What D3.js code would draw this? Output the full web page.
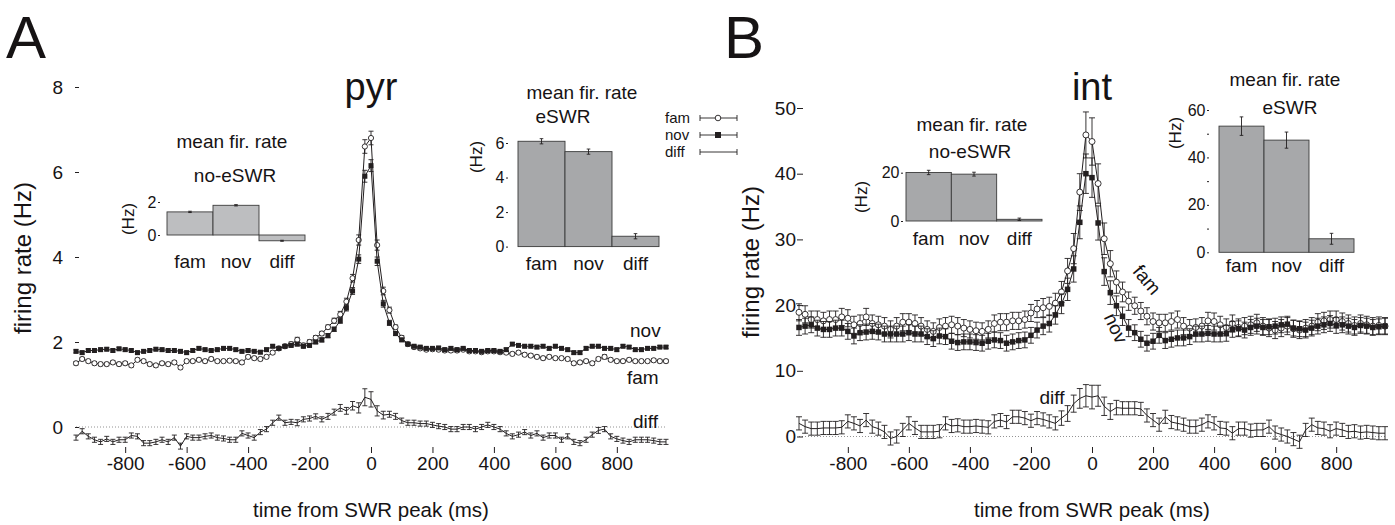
<!DOCTYPE html>
<html lang="en">
<head>
<meta charset="UTF-8">
<title>Firing rate around SWR peak</title>
<script src="https://d3js.org/d3.v7.min.js"></script>
<style>
  body { margin: 0; background: #fff; }
  svg text { font-family: "Liberation Sans", Arial, sans-serif; fill: #161314; }
  .tick line { stroke: #231f20; }
</style>
</head>
<body>
<svg width="1395" height="525"></svg>
<script>
// time bins (ms from SWR peak), 20 ms wide
const timeBins = d3.range(-960, 961, 20);
const xTicks = [-800, -600, -400, -200, 0, 200, 400, 600, 800];
const pyrYTicks = [0, 2, 4, 6, 8];
const intYTicks = [0, 10, 20, 30, 40, 50];
const insetCats = ["fam", "nov", "diff"];

// ---- pyr (panel A) ----
const pyrFam = [
  1.50, 1.60, 1.55, 1.50, 1.48, 1.48, 1.52, 1.48, 1.50, 1.45,
  1.58, 1.55, 1.48, 1.45, 1.50, 1.48, 1.52, 1.40, 1.55, 1.55,
  1.58, 1.55, 1.60, 1.55, 1.55, 1.56, 1.55, 1.52, 1.65, 1.62,
  1.60, 1.65, 1.75, 1.85, 1.90, 1.95, 2.05, 1.92, 2.00, 2.10,
  2.20, 2.35, 2.50, 2.65, 2.95, 3.50, 4.40, 6.60, 6.80, 4.28,
  3.20, 2.75, 2.35, 2.10, 1.95, 1.88, 1.85, 1.82, 1.83, 1.82,
  1.80, 1.80, 1.80, 1.82, 1.78, 1.78, 1.76, 1.78, 1.78, 1.76,
  1.75, 1.72, 1.75, 1.70, 1.68, 1.65, 1.62, 1.65, 1.62, 1.62,
  1.60, 1.50, 1.52, 1.55, 1.50, 1.60, 1.65, 1.58, 1.55, 1.55,
  1.58, 1.55, 1.55, 1.55, 1.57, 1.55, 1.55
];
const pyrFamErr = [
  0.04, 0.04, 0.04, 0.04, 0.04, 0.04, 0.04, 0.04, 0.04, 0.04,
  0.04, 0.04, 0.04, 0.04, 0.04, 0.04, 0.04, 0.04, 0.04, 0.04,
  0.04, 0.04, 0.04, 0.04, 0.04, 0.04, 0.04, 0.04, 0.04, 0.04,
  0.04, 0.04, 0.04, 0.04, 0.04, 0.05, 0.06, 0.05, 0.05, 0.05,
  0.05, 0.05, 0.06, 0.07, 0.08, 0.09, 0.12, 0.16, 0.16, 0.12,
  0.09, 0.07, 0.05, 0.05, 0.04, 0.04, 0.04, 0.04, 0.04, 0.04,
  0.04, 0.04, 0.04, 0.04, 0.04, 0.04, 0.04, 0.04, 0.04, 0.04,
  0.04, 0.04, 0.04, 0.04, 0.04, 0.04, 0.04, 0.04, 0.04, 0.04,
  0.04, 0.04, 0.04, 0.04, 0.04, 0.04, 0.05, 0.04, 0.04, 0.04,
  0.04, 0.04, 0.04, 0.04, 0.04, 0.04, 0.04
];
const pyrNov = [
  1.78, 1.75, 1.80, 1.80, 1.82, 1.83, 1.80, 1.84, 1.82, 1.80,
  1.75, 1.78, 1.80, 1.83, 1.82, 1.80, 1.80, 1.78, 1.75, 1.80,
  1.85, 1.82, 1.80, 1.82, 1.85, 1.85, 1.82, 1.78, 1.80, 1.78,
  1.76, 1.82, 1.90, 1.85, 1.90, 1.92, 1.95, 1.90, 1.92, 2.00,
  2.05, 2.15, 2.30, 2.50, 2.80, 3.20, 3.95, 5.90, 6.15, 3.90,
  2.90, 2.45, 2.20, 2.05, 1.95, 1.90, 1.88, 1.85, 1.85, 1.86,
  1.82, 1.85, 1.82, 1.85, 1.80, 1.80, 1.78, 1.80, 1.80, 1.78,
  1.82, 1.95, 1.92, 1.90, 1.90, 1.88, 1.90, 1.85, 1.90, 1.85,
  1.82, 1.75, 1.75, 1.85, 1.90, 1.90, 1.85, 1.85, 1.82, 1.90,
  1.88, 1.82, 1.82, 1.85, 1.85, 1.88, 1.88
];
const pyrNovErr = [
  0.035, 0.035, 0.035, 0.035, 0.035, 0.035, 0.035, 0.035, 0.035, 0.035,
  0.035, 0.035, 0.035, 0.035, 0.035, 0.035, 0.035, 0.035, 0.035, 0.035,
  0.035, 0.035, 0.035, 0.035, 0.035, 0.035, 0.035, 0.035, 0.035, 0.035,
  0.035, 0.035, 0.035, 0.035, 0.035, 0.04, 0.04, 0.04, 0.04, 0.04,
  0.05, 0.05, 0.05, 0.06, 0.07, 0.08, 0.10, 0.14, 0.14, 0.10,
  0.08, 0.06, 0.05, 0.04, 0.035, 0.035, 0.035, 0.035, 0.035, 0.035,
  0.035, 0.035, 0.035, 0.035, 0.035, 0.035, 0.035, 0.035, 0.035, 0.035,
  0.035, 0.035, 0.035, 0.035, 0.035, 0.035, 0.035, 0.035, 0.035, 0.035,
  0.035, 0.035, 0.035, 0.035, 0.035, 0.035, 0.035, 0.035, 0.035, 0.035,
  0.035, 0.035, 0.035, 0.035, 0.035, 0.035, 0.035
];
const pyrDiff = [
  -0.25, -0.10, -0.22, -0.30, -0.35, -0.28, -0.35, -0.30, -0.30, -0.20,
  -0.22, -0.38, -0.38, -0.35, -0.30, -0.35, -0.25, -0.45, -0.22, -0.25,
  -0.25, -0.22, -0.20, -0.25, -0.27, -0.30, -0.30, -0.15, -0.20, -0.25,
  -0.12, -0.05, 0.10, 0.22, 0.10, 0.12, 0.10, 0.18, 0.20, 0.25,
  0.18, 0.25, 0.35, 0.45, 0.38, 0.50, 0.45, 0.70, 0.65, 0.38,
  0.28, 0.30, 0.25, 0.15, 0.10, 0.10, 0.08, 0.08, 0.05, 0.02,
  0.00, -0.05, -0.05, 0.00, 0.00, -0.05, 0.00, 0.05, 0.00, -0.05,
  -0.15, -0.22, -0.18, -0.12, -0.20, -0.15, -0.25, -0.20, -0.20, -0.30,
  -0.22, -0.35, -0.38, -0.30, -0.18, -0.08, -0.05, -0.22, -0.28, -0.32,
  -0.35, -0.30, -0.30, -0.30, -0.32, -0.35, -0.35
];
const pyrDiffErr = [
  0.06, 0.06, 0.06, 0.06, 0.06, 0.06, 0.06, 0.06, 0.06, 0.06,
  0.06, 0.06, 0.06, 0.06, 0.06, 0.06, 0.06, 0.07, 0.06, 0.06,
  0.06, 0.06, 0.06, 0.06, 0.06, 0.06, 0.06, 0.06, 0.06, 0.06,
  0.06, 0.06, 0.06, 0.06, 0.06, 0.06, 0.07, 0.06, 0.06, 0.06,
  0.06, 0.07, 0.07, 0.08, 0.08, 0.10, 0.12, 0.20, 0.18, 0.12,
  0.09, 0.07, 0.07, 0.06, 0.06, 0.06, 0.06, 0.06, 0.06, 0.06,
  0.06, 0.06, 0.06, 0.06, 0.06, 0.06, 0.06, 0.06, 0.06, 0.06,
  0.06, 0.06, 0.06, 0.06, 0.06, 0.06, 0.06, 0.06, 0.06, 0.06,
  0.06, 0.06, 0.06, 0.06, 0.06, 0.07, 0.06, 0.06, 0.06, 0.06,
  0.06, 0.06, 0.06, 0.06, 0.06, 0.06, 0.06
];
const pyrNoEswr = [1.4, 1.8, -0.35];
const pyrNoEswrErr = [0.04, 0.04, 0.03];
const pyrEswr = [6.1, 5.5, 0.6];
const pyrEswrErr = [0.15, 0.15, 0.15];

// ---- int (panel B) ----
const intFam = [
  18.9, 18.6, 17.8, 17.8, 17.6, 17.8, 17.8, 18.2, 18.0, 17.0,
  17.2, 18.2, 17.2, 17.0, 16.8, 16.3, 16.8, 17.4, 17.4, 17.2,
  16.8, 16.3, 16.0, 16.6, 16.8, 17.0, 16.8, 16.5, 16.3, 16.1,
  16.0, 16.3, 17.2, 17.4, 17.4, 17.6, 17.6, 17.8, 18.8, 19.4,
  19.6, 19.8, 20.3, 22.0, 25.2, 28.6, 37.2, 45.9, 44.9, 38.5,
  30.1, 26.3, 23.5, 22.0, 20.6, 19.9, 19.1, 18.3, 17.5, 17.3,
  17.3, 17.5, 17.8, 16.8, 16.5, 16.6, 16.8, 17.6, 17.5, 17.0,
  16.6, 17.2, 16.6, 16.8, 17.0, 17.3, 16.8, 16.5, 16.2, 16.5,
  16.8, 16.4, 16.2, 16.5, 16.8, 17.4, 17.6, 17.8, 17.8, 17.5,
  17.2, 16.9, 17.2, 17.0, 16.8, 16.9, 16.8
];
const intFamErr = [
  1.3, 1.3, 1.3, 1.3, 1.3, 1.3, 1.3, 1.3, 1.3, 1.3,
  1.3, 1.3, 1.3, 1.3, 1.3, 1.3, 1.3, 1.3, 1.3, 1.3,
  1.3, 1.3, 1.3, 1.3, 1.3, 1.3, 1.3, 1.3, 1.3, 1.3,
  1.3, 1.3, 1.3, 1.3, 1.3, 1.3, 1.3, 1.3, 1.3, 1.3,
  1.4, 1.4, 1.5, 1.6, 1.9, 2.3, 2.8, 3.5, 3.6, 3.0,
  2.4, 2.0, 1.7, 1.5, 1.4, 1.3, 1.3, 1.3, 1.3, 1.3,
  1.3, 1.3, 1.3, 1.3, 1.3, 1.3, 1.3, 1.3, 1.3, 1.3,
  1.3, 1.3, 1.3, 1.3, 1.3, 1.3, 1.3, 1.3, 1.3, 1.3,
  1.3, 1.3, 1.3, 1.3, 1.3, 1.3, 1.3, 1.3, 1.3, 1.3,
  1.3, 1.3, 1.3, 1.3, 1.3, 1.3, 1.3
];
const intNov = [
  16.6, 16.8, 17.0, 16.5, 16.3, 16.3, 16.5, 16.5, 16.0, 15.3,
  15.8, 15.9, 16.0, 15.9, 15.6, 15.6, 15.6, 15.6, 15.8, 15.6,
  15.6, 15.2, 14.9, 15.3, 15.2, 14.5, 14.3, 14.4, 14.4, 14.3,
  14.2, 14.5, 14.7, 14.6, 14.2, 14.4, 14.6, 14.7, 15.4, 16.2,
  16.8, 17.2, 18.5, 20.2, 22.4, 25.5, 32.6, 40.0, 39.4, 32.5,
  25.1, 21.9, 19.9, 18.3, 16.5, 15.8, 14.8, 14.2, 14.5, 15.4,
  14.6, 14.8, 15.0, 15.0, 15.2, 15.6, 15.6, 15.7, 15.6, 15.6,
  15.7, 16.3, 16.4, 16.2, 16.6, 16.8, 16.6, 16.7, 16.8, 17.0,
  17.1, 16.5, 16.4, 16.2, 16.5, 16.8, 17.0, 17.2, 16.9, 17.0,
  16.8, 16.6, 16.9, 16.8, 16.6, 16.7, 16.8
];
const intNovErr = [
  1.2, 1.2, 1.2, 1.2, 1.2, 1.2, 1.2, 1.2, 1.2, 1.2,
  1.2, 1.2, 1.2, 1.2, 1.2, 1.2, 1.2, 1.2, 1.2, 1.2,
  1.2, 1.2, 1.2, 1.2, 1.2, 1.2, 1.2, 1.2, 1.2, 1.2,
  1.2, 1.2, 1.2, 1.2, 1.2, 1.2, 1.2, 1.2, 1.2, 1.2,
  1.3, 1.3, 1.4, 1.5, 1.7, 2.0, 2.5, 3.0, 3.0, 2.6,
  2.1, 1.8, 1.5, 1.4, 1.3, 1.2, 1.2, 1.2, 1.2, 1.2,
  1.2, 1.2, 1.2, 1.2, 1.2, 1.2, 1.2, 1.2, 1.2, 1.2,
  1.2, 1.2, 1.2, 1.2, 1.2, 1.2, 1.2, 1.2, 1.2, 1.2,
  1.2, 1.2, 1.2, 1.2, 1.2, 1.2, 1.2, 1.2, 1.2, 1.2,
  1.2, 1.2, 1.2, 1.2, 1.2, 1.2, 1.2
];
const intDiff = [
  2.0, 1.5, 1.2, 1.2, 1.3, 1.3, 1.3, 1.4, 2.3, 2.0,
  1.6, 2.5, 1.5, 1.2, 0.7, -0.3, 0.0, 1.0, 2.0, 1.3,
  0.7, 0.7, 0.7, 0.8, 2.0, 1.6, 1.7, 1.5, 1.5, 1.6,
  1.5, 1.4, 2.3, 2.5, 2.2, 3.0, 3.0, 2.8, 2.4, 2.8,
  2.6, 2.3, 2.0, 2.8, 3.5, 5.0, 5.8, 6.2, 6.0, 6.2,
  4.6, 3.8, 4.4, 4.3, 4.3, 4.3, 4.2, 3.2, 2.5, 1.8,
  3.0, 2.2, 2.0, 1.8, 1.5, 1.5, 1.8, 2.3, 2.0, 1.3,
  1.2, 0.5, 1.2, 1.2, 0.9, 1.0, 1.0, 1.5, 0.6, 0.3,
  0.0, -0.4, -0.8, 1.0, 1.8, 1.3, 1.2, 0.8, 1.2, 1.0,
  0.7, 0.8, 0.6, 0.7, 0.6, 0.5, 0.5
];
const intDiffErr = [
  1.0, 1.0, 1.0, 1.0, 1.0, 1.0, 1.0, 1.0, 1.0, 1.0,
  1.0, 1.0, 1.0, 1.0, 1.0, 1.0, 1.0, 1.0, 1.0, 1.0,
  1.0, 1.0, 1.0, 1.0, 1.0, 1.0, 1.0, 1.0, 1.0, 1.0,
  1.0, 1.0, 1.0, 1.0, 1.0, 1.0, 1.0, 1.0, 1.0, 1.0,
  1.0, 1.0, 1.0, 1.1, 1.2, 1.3, 1.5, 1.7, 1.8, 1.6,
  1.4, 1.2, 1.1, 1.0, 1.0, 1.0, 1.0, 1.0, 1.0, 1.0,
  1.0, 1.0, 1.0, 1.0, 1.0, 1.0, 1.0, 1.0, 1.0, 1.0,
  1.0, 1.0, 1.0, 1.0, 1.0, 1.0, 1.0, 1.0, 1.0, 1.0,
  1.0, 1.0, 1.0, 1.0, 1.0, 1.0, 1.0, 1.0, 1.0, 1.0,
  1.0, 1.0, 1.0, 1.0, 1.0, 1.0, 1.0
];
const intNoEswr = [20.1, 19.4, 0.7];
const intNoEswrErr = [0.9, 0.8, 0.5];
const intEswr = [53.2, 47.3, 5.7];
const intEswrErr = [3.9, 3.4, 2.3];

const ink = "#231f20";
const svg = d3.select("svg");

function errPath(xx, ylo, yhi, cap) {
  return `M${xx - cap},${ylo}H${xx + cap}M${xx},${ylo}V${yhi}M${xx - cap},${yhi}H${xx + cap}`;
}

function drawSeries(g, x, y, vals, errs, opts) {
  const line = d3.line().x((d, i) => x(timeBins[i])).y(d => y(d));
  g.append("path").datum(vals)
    .attr("d", line).attr("fill", "none")
    .attr("stroke", ink).attr("stroke-width", 1);
  g.append("g").selectAll("path").data(vals).join("path")
    .attr("d", (d, i) => errPath(x(timeBins[i]), y(d - errs[i]), y(d + errs[i]), opts.cap))
    .attr("fill", "none").attr("stroke", ink).attr("stroke-width", 0.9);
  if (opts.marker === "circle") {
    g.append("g").selectAll("circle").data(vals).join("circle")
      .attr("cx", (d, i) => x(timeBins[i])).attr("cy", d => y(d))
      .attr("r", opts.size).attr("fill", "#fff")
      .attr("stroke", ink).attr("stroke-width", 0.9);
  } else if (opts.marker === "square") {
    g.append("g").selectAll("rect").data(vals).join("rect")
      .attr("x", (d, i) => x(timeBins[i]) - opts.size / 2)
      .attr("y", d => y(d) - opts.size / 2)
      .attr("width", opts.size).attr("height", opts.size)
      .attr("fill", ink);
  }
}

function drawMain(cfg) {
  const g = svg.append("g");
  const x = d3.scaleLinear().domain([-960, 960]).range(cfg.xRange);
  const y = d3.scaleLinear().domain([0, cfg.yTop]).range(cfg.yRange);

  // zero reference
  g.append("line")
    .attr("x1", x(-960)).attr("x2", x(960))
    .attr("y1", y(0)).attr("y2", y(0))
    .attr("stroke", "#777").attr("stroke-width", 0.8)
    .attr("stroke-dasharray", "1,2");

  const yAxis = g.append("g")
    .attr("transform", `translate(${cfg.yAxisX},0)`)
    .call(d3.axisLeft(y).tickValues(cfg.yTicks).tickFormat(d => String(d))
      .tickSize(cfg.yTickSize).tickPadding(cfg.yTickPad));
  yAxis.select(".domain").remove();
  yAxis.selectAll("text").attr("font-size", 19);

  const xAxis = g.append("g")
    .attr("transform", `translate(0,${cfg.xAxisY})`)
    .call(d3.axisBottom(x).tickValues(xTicks).tickFormat(d => String(d))
      .tickSize(6).tickPadding(4));
  xAxis.select(".domain").remove();
  xAxis.selectAll("text").attr("font-size", 19);

  g.append("text")
    .attr("x", x(0)).attr("y", 517)
    .attr("text-anchor", "middle").attr("font-size", 20.5)
    .text("time from SWR peak (ms)");
  g.append("text")
    .attr("transform", `translate(${cfg.yTitleX},${cfg.yTitleY}) rotate(-90)`)
    .attr("text-anchor", "middle").attr("font-size", 24)
    .text("firing rate (Hz)");

  g.append("text")
    .attr("x", cfg.letterX).attr("y", 58).attr("font-size", 60)
    .text(cfg.letter);
  g.append("text")
    .attr("x", x(0)).attr("y", 100).attr("text-anchor", "middle")
    .attr("font-size", 38).text(cfg.title);

  drawSeries(g, x, y, cfg.diff, cfg.diffErr, { marker: "none", cap: cfg.cap });
  drawSeries(g, x, y, cfg.fam, cfg.famErr, { marker: "circle", size: cfg.circleR, cap: cfg.cap });
  drawSeries(g, x, y, cfg.nov, cfg.novErr, { marker: "square", size: cfg.squareS, cap: cfg.cap });

  cfg.labels.forEach(l => {
    g.append("text")
      .attr("transform", `translate(${l.x},${l.y}) rotate(${l.rot || 0})`)
      .attr("text-anchor", l.anchor || "start").attr("font-size", 19)
      .text(l.text);
  });
}

function drawInset(cfg) {
  const g = svg.append("g");
  const x = d3.scaleBand().domain(insetCats).range(cfg.xRange);
  const y = d3.scaleLinear().domain([0, cfg.yTop]).range(cfg.yRange);

  g.selectAll("rect").data(cfg.values).join("rect")
    .attr("x", (d, i) => x(insetCats[i]))
    .attr("width", x.bandwidth())
    .attr("y", d => Math.min(y(d), y(0)))
    .attr("height", d => Math.abs(y(d) - y(0)))
    .attr("fill", cfg.fill).attr("stroke", "#3b3b3b").attr("stroke-width", 0.9);

  g.append("g").selectAll("path").data(cfg.values).join("path")
    .attr("d", (d, i) => errPath(x(insetCats[i]) + x.bandwidth() / 2,
      y(d - cfg.errs[i]), y(d + cfg.errs[i]), 1.8))
    .attr("fill", "none").attr("stroke", ink).attr("stroke-width", 0.9);

  const ax = g.append("g")
    .attr("transform", `translate(${cfg.axisX},0)`)
    .call(d3.axisLeft(y).tickValues(cfg.ticks)
      .tickFormat(d => cfg.tickLabels.includes(d) ? String(d) : "")
      .tickSize(2).tickPadding(1.5));
  ax.select(".domain").remove();
  ax.selectAll("text").attr("font-size", 16);

  g.selectAll("text.cat").data(insetCats).join("text")
    .attr("class", "cat")
    .attr("x", d => x(d) + x.bandwidth() / 2).attr("y", cfg.catY)
    .attr("text-anchor", "middle").attr("font-size", 19).text(d => d);

  cfg.titles.forEach(t => {
    g.append("text").attr("x", t.x).attr("y", t.y)
      .attr("text-anchor", "middle").attr("font-size", 19).text(t.text);
  });
  g.append("text")
    .attr("transform", `translate(${cfg.hzX},${cfg.hzY}) rotate(-90)`)
    .attr("text-anchor", "middle").attr("font-size", 17).text("(Hz)");
}

// Panel A
drawMain({
  letter: "A", letterX: 6, title: "pyr",
  xRange: [76, 666], yTop: 8, yRange: [427, 87],
  yTicks: pyrYTicks, yAxisX: 79, yTickSize: 4, yTickPad: 12,
  xAxisY: 447, yTitleX: 31, yTitleY: 258,
  fam: pyrFam, famErr: pyrFamErr, nov: pyrNov, novErr: pyrNovErr,
  diff: pyrDiff, diffErr: pyrDiffErr, cap: 2.5, circleR: 2.6, squareS: 5,
  labels: [
    { text: "nov", x: 630, y: 337 },
    { text: "fam", x: 627, y: 384 },
    { text: "diff", x: 633, y: 428 }
  ]
});

// Panel B
drawMain({
  letter: "B", letterX: 724, title: "int",
  xRange: [799, 1385], yTop: 50, yRange: [436.5, 108],
  yTicks: intYTicks, yAxisX: 803, yTickSize: 6, yTickPad: 1,
  xAxisY: 447, yTitleX: 759, yTitleY: 262,
  fam: intFam, famErr: intFamErr, nov: intNov, novErr: intNovErr,
  diff: intDiff, diffErr: intDiffErr, cap: 3, circleR: 3, squareS: 5.5,
  labels: [
    { text: "fam", x: 1142, y: 284, rot: 50, anchor: "middle" },
    { text: "nov", x: 1110, y: 331, rot: 65, anchor: "middle" },
    { text: "diff", x: 1052, y: 404, anchor: "middle" }
  ]
});

// insets
drawInset({
  xRange: [167, 305], yTop: 2, yRange: [235, 202],
  values: pyrNoEswr, errs: pyrNoEswrErr, fill: "#bdbec0",
  ticks: [0, 2], tickLabels: [0, 2], axisX: 160, catY: 268,
  titles: [{ text: "mean fir. rate", x: 232, y: 148 }, { text: "no-eSWR", x: 235, y: 182 }],
  hzX: 134, hzY: 219
});
drawInset({
  xRange: [518, 659], yTop: 6, yRange: [246.6, 143],
  values: pyrEswr, errs: pyrEswrErr, fill: "#a7a8aa",
  ticks: [0, 2, 4, 6], tickLabels: [0, 2, 4, 6], axisX: 508, catY: 270,
  titles: [{ text: "mean fir. rate", x: 582, y: 99 }, { text: "eSWR", x: 563, y: 123 }],
  hzX: 482, hzY: 157
});
drawInset({
  xRange: [906, 1042], yTop: 20, yRange: [221, 172.7],
  values: intNoEswr, errs: intNoEswrErr, fill: "#a7a8aa",
  ticks: [0, 20], tickLabels: [0, 20], axisX: 903, catY: 245,
  titles: [{ text: "mean fir. rate", x: 972, y: 131 }, { text: "no-eSWR", x: 970, y: 158 }],
  hzX: 867, hzY: 197
});
drawInset({
  xRange: [1219, 1354], yTop: 60, yRange: [252.3, 110],
  values: intEswr, errs: intEswrErr, fill: "#a7a8aa",
  ticks: [0, 10, 20, 30, 40, 50, 60], tickLabels: [0, 20, 40, 60], axisX: 1209, catY: 272,
  titles: [{ text: "mean fir. rate", x: 1285, y: 86 }, { text: "eSWR", x: 1290, y: 114 }],
  hzX: 1181, hzY: 133
});

// legend
const legendRows = [
  { text: "fam", marker: "circle", y: 118 },
  { text: "nov", marker: "square", y: 135 },
  { text: "diff", marker: "none", y: 152 }
];
const lg = svg.append("g");
legendRows.forEach(r => {
  lg.append("text").attr("x", 665).attr("y", r.y + 5).attr("font-size", 15).text(r.text);
  lg.append("path")
    .attr("d", `M700,${r.y}H737M700,${r.y - 3}V${r.y + 3}M737,${r.y - 3}V${r.y + 3}`)
    .attr("stroke", ink).attr("stroke-width", 0.9).attr("fill", "none");
  if (r.marker === "circle") {
    lg.append("circle").attr("cx", 718).attr("cy", r.y).attr("r", 2.8)
      .attr("fill", "#fff").attr("stroke", ink).attr("stroke-width", 0.9);
  } else if (r.marker === "square") {
    lg.append("rect").attr("x", 715).attr("y", r.y - 3).attr("width", 6).attr("height", 6)
      .attr("fill", ink);
  }
});
</script>
</body>
</html>
